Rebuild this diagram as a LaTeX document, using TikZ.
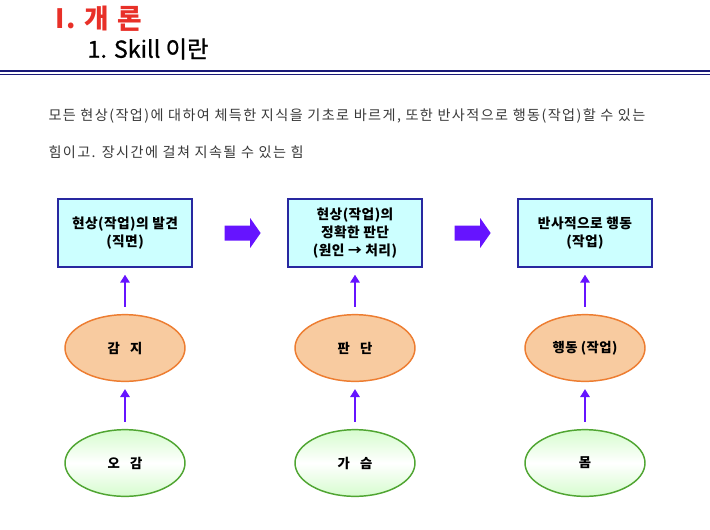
\documentclass[tikz,border=0pt]{standalone}
\usepackage{fontspec}
\setmainfont{Noto Sans CJK KR}
\newfontfamily\widefont[LetterSpace=10]{Noto Sans CJK KR}
\newfontfamily\boxfont[LetterSpace=3]{Noto Sans CJK KR}
\newfontfamily\titlefont[LetterSpace=8]{Noto Sans CJK KR}
\newfontfamily\sectfont[FakeBold=0.9]{Noto Sans CJK KR}
\usetikzlibrary{arrows.meta,shapes.geometric,shapes.arrows,calc}

\definecolor{titlered}{RGB}{232,48,40}
\definecolor{rulenavy}{RGB}{26,26,120}
\definecolor{boxcyan}{RGB}{204,255,255}
\definecolor{boxnavy}{RGB}{40,40,160}
\definecolor{arrowviolet}{RGB}{102,20,255}
\definecolor{peach}{RGB}{248,203,160}
\definecolor{peachline}{RGB}{237,125,49}
\definecolor{leafline}{RGB}{80,165,50}
\definecolor{leaffill}{RGB}{214,252,206}

\tikzset{every picture/.style={line width=0.75pt}}
\tikzset{
  stagebox/.style={draw=boxnavy,line width=1.5pt,fill=boxcyan,minimum width=100.5pt,minimum height=50.5pt,align=center,font=\boxfont\bfseries\fontsize{10.3}{13.8}\selectfont,inner sep=0pt},
  mindoval/.style={ellipse,draw=peachline,line width=1.1pt,fill=peach,minimum width=90pt,minimum height=50pt,font=\boxfont\bfseries\fontsize{10}{12}\selectfont,inner sep=0pt},
  rootoval/.style={ellipse,draw=leafline,line width=1.1pt,top color=leaffill,bottom color=leaffill,middle color=white,minimum width=90pt,minimum height=50pt,font=\boxfont\bfseries\fontsize{10}{12}\selectfont,inner sep=0pt},
  uparrow/.style={draw=arrowviolet,line width=2.2pt,-{Triangle[width=7pt,length=6pt]},shorten <=5.25pt,shorten >=5.25pt},
  fatarrow/.style={single arrow,fill=arrowviolet,draw=none,minimum height=27pt,minimum width=22pt,single arrow head extend=5.6pt,single arrow tip angle=110,inner sep=5.25pt}
}

\begin{document}
\begin{tikzpicture}[x=0.75pt,y=0.75pt,yscale=-1,xscale=1]

\useasboundingbox (0,0) rectangle (710,529);

% heading
\draw (55,19) node [anchor=west,inner sep=0pt,text=titlered,font=\titlefont\bfseries\fontsize{20}{24}\selectfont] (chap) {I. 개 론};
\draw (87,49) node [anchor=west,inner sep=0pt,font=\sectfont\fontsize{17.5}{21}\selectfont] (sect) {1. Skill 이란};
\draw [rulenavy,line width=1.6pt] (0,71) -- (710,71) ;
\draw [rulenavy,line width=0.8pt] (0,74.5) -- (710,74.5) ;

% definition
\draw (48,116) node [anchor=west,inner sep=0pt,text=black!78,font=\widefont\fontsize{10.6}{13}\selectfont] (def1) {모든 현상(작업)에 대하여 체득한 지식을 기초로 바르게, 또한 반사적으로 행동(작업)할 수 있는};
\draw (48,152) node [anchor=west,inner sep=0pt,text=black!78,font=\widefont\fontsize{10.6}{13}\selectfont] (def2) {힘이고. 장시간에 걸쳐 지속될 수 있는 힘};

% stages
\draw (125,233) node [stagebox] (see) {현상(작업)의 발견\\(직면)};
\draw (355,233) node [stagebox] (judge) {현상(작업)의\\정확한 판단\\(원인 → 처리)};
\draw (585,233) node [stagebox] (act) {반사적으로 행동\\(작업)};

\node [fatarrow] (go1) at ($(see.east)!0.5!(judge.west)$) {};
\node [fatarrow] (go2) at ($(judge.east)!0.5!(act.west)$) {};

% faculties
\draw (125,348) node [mindoval] (sense) {감\ \ \ 지};
\draw (355,348) node [mindoval] (decide) {판\ \ \ 단};
\draw (585,348) node [mindoval] (move) {행동 (작업)};

% sources
\draw (125,463) node [rootoval] (five) {오\ \ \ 감};
\draw (355,463) node [rootoval] (heart) {가\ \ \ 슴};
\draw (585,463) node [rootoval] (body) {몸};

\draw [uparrow] (sense) -- (see);
\draw [uparrow] (decide) -- (judge);
\draw [uparrow] (move) -- (act);
\draw [uparrow] (five) -- (sense);
\draw [uparrow] (heart) -- (decide);
\draw [uparrow] (body) -- (move);

\end{tikzpicture}
\end{document}
